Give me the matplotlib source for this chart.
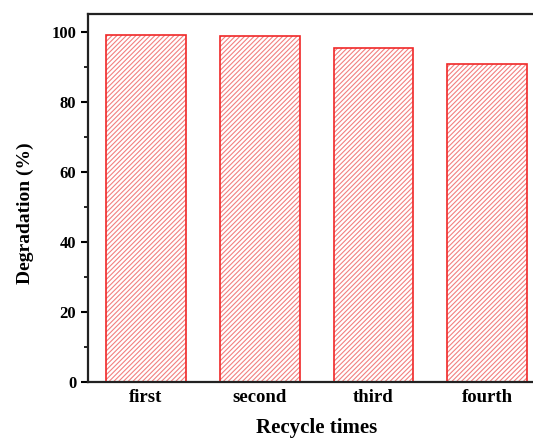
import matplotlib.pyplot as plt
import numpy as np

cycles = ["first", "second", "third", "fourth"]
degradation = [99.0, 98.7, 95.3, 90.8]

plt.rcParams["font.family"] = ["Liberation Serif", "DejaVu Serif"]
plt.rcParams["hatch.linewidth"] = 0.8

fig = plt.figure(figsize=(5.33, 4.38), dpi=100)
ax = fig.add_axes([0.165, 0.128, 0.858, 0.84])

x = np.arange(len(cycles))
# hatch in a lighter red, outline drawn on top in stronger red
ax.bar(x, degradation, width=0.7, facecolor="white", edgecolor="#f28080",
       hatch="///////", linewidth=0)
ax.bar(x, degradation, width=0.7, fill=False, edgecolor="#f02828",
       linewidth=1.2)

ax.set_xlim(-0.51, 3.51)
ax.set_ylim(0, 105)
ax.set_yticks([0, 20, 40, 60, 80, 100])
ax.set_yticks([10, 30, 50, 70, 90], minor=True)
ax.set_xticks(x)
ax.set_xticklabels(cycles, fontsize=13.5, fontweight="bold")
for lab in ax.get_yticklabels():
    lab.set_fontsize(12)
    lab.set_fontweight("bold")

ax.tick_params(axis="x", length=0, pad=5)
ax.tick_params(axis="y", which="major", direction="out", length=5, width=1.5)
ax.tick_params(axis="y", which="minor", direction="out", length=3, width=1.2)

for s in ax.spines.values():
    s.set_linewidth(1.6)
    s.set_color("#222222")

ax.set_xlabel("Recycle times", fontsize=15, fontweight="bold", labelpad=9)
ax.set_ylabel("Degradation (%)", fontsize=14, fontweight="bold")
ax.yaxis.set_label_coords(-0.118, 0.46)

fig.savefig("out.png", dpi=100)
